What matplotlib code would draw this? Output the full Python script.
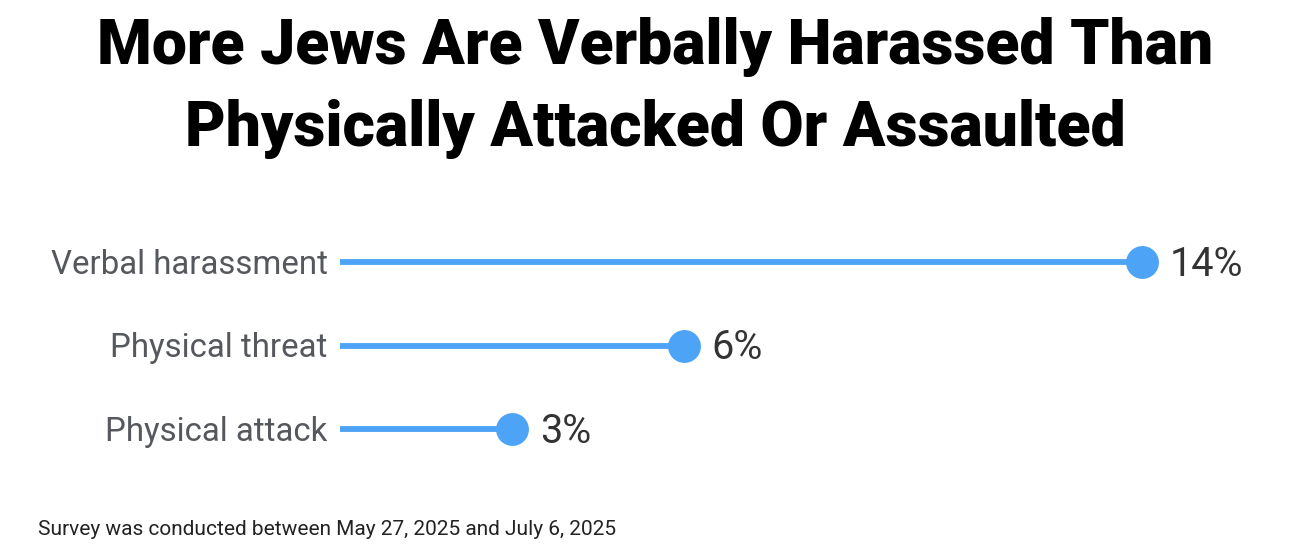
import matplotlib
matplotlib.use("Agg")
import matplotlib.pyplot as plt

# data
categories = ["Verbal harassment", "Physical threat", "Physical attack"]
values = [14, 6, 3]
title = "More Jews Are Verbally Harassed Than\nPhysically Attacked Or Assaulted"
note = "Survey was conducted between May 27, 2025 and July 6, 2025"

BLUE = "#4da3f5"
W, H = 1290, 560

plt.rcParams['font.family'] = ['Roboto', 'DejaVu Sans']

fig = plt.figure(figsize=(W / 100, H / 100), dpi=100)
fig.patch.set_facecolor("white")

# axes placed in pixel terms: x=0 at 340px, x=14 at 1142px; rows at 262 / 429px
ax = fig.add_axes([340 / W, 1 - 429 / H, (1142 - 340) / W, (429 - 262) / H])
ax.set_xlim(0, 14)
ax.set_ylim(len(categories) - 1, 0)
ax.axis("off")

for i, (cat, val) in enumerate(zip(categories, values)):
    ax.plot([0, val], [i, i], color=BLUE, lw=4.2, solid_capstyle="butt",
            clip_on=False, zorder=2)
    ax.scatter([val], [i], s=560, color=BLUE, zorder=3, clip_on=False,
               linewidths=0)
    ax.annotate(cat, xy=(0, i), xytext=(-9, -2), textcoords="offset points",
                ha="right", va="center", fontsize=23.8, color="#55585d")
    ax.annotate(f"{val}%", xy=(val, i), xytext=(20, -1.5), textcoords="offset points",
                ha="left", va="center", fontsize=28.5, color="#333333")

fig.text(655 / W, 1 - 88 / H, title, ha="center", va="center", fontsize=45,
         fontweight="black", color="black", linespacing=1.45)
fig.text(38 / W, 1 - 529.5 / H, note, ha="left", va="center", fontsize=15,
         color="#222222")

fig.savefig("out.png", dpi=100, facecolor="white")
